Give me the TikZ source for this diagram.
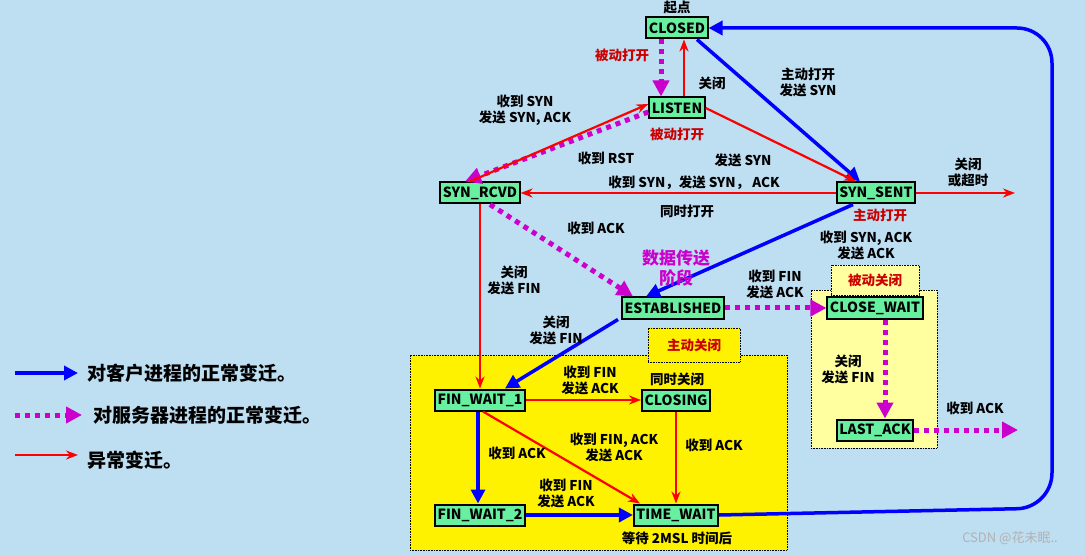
\documentclass[tikz,border=0pt]{standalone}
\usepackage{fontspec}
\setmainfont{Noto Sans CJK SC}
\usetikzlibrary{arrows.meta}
\definecolor{bgblue}{RGB}{190,222,242}
\definecolor{stgreen}{RGB}{102,240,160}
\definecolor{mag}{RGB}{204,0,204}
\definecolor{pyellow}{RGB}{255,255,160}

\begin{document}
\begin{tikzpicture}[x=1pt,y=-1pt,
        every node/.style={font=\bfseries\fontsize{13.5}{16}\selectfont, align=center},
        state/.style={draw, line width=2pt, fill=stgreen, inner sep=2.5pt, minimum height=21pt, font=\bfseries\fontsize{14}{16}\selectfont},
        client/.style={blue, line width=3.5pt, -{Triangle[length=14pt,width=14pt]}},
        server/.style={mag, line width=5pt, dash pattern=on 5pt off 5pt, -{Triangle[length=16pt,width=16pt]}},
        bad/.style={red, line width=2.2pt, -{Stealth[length=12pt,width=9pt]}},
        redtxt/.style={text=red!80!black},
        area/.style={draw, densely dotted, line width=0.6pt}
    ]
    \fill[bgblue] (0,0) rectangle (1085,556);
    \useasboundingbox (0,0) rectangle (1085,556);

    % closing areas
    \node[area, fill=yellow, minimum width=377pt, minimum height=195pt] (activearea) at (598.5,452.5) {};
    \node[area, fill=yellow, minimum width=92pt, minimum height=34pt, redtxt] (activelabel) at (694,345) {主动关闭};
    \node[area, fill=pyellow, minimum width=126pt, minimum height=158pt] (passivearea) at (874,369) {};
    \node[area, fill=pyellow, minimum width=88pt, minimum height=30pt, redtxt] (passivelabel) at (875,280) {被动关闭};

    % states
    \node[state] (closed) at (677,28) {CLOSED};
    \node[state] (listen) at (677,108) {LISTEN};
    \node[state] (synrcvd) at (480,193) {SYN\_RCVD};
    \node[state] (synsent) at (876,193) {SYN\_SENT};
    \node[state] (estab) at (673,308) {ESTABLISHED};
    \node[state] (closewait) at (875,308) {CLOSE\_WAIT};
    \node[state] (lastack) at (875,430) {LAST\_ACK};
    \node[state] (finwait1) at (480,400) {FIN\_WAIT\_1};
    \node[state] (closing) at (676,400) {CLOSING};
    \node[state] (finwait2) at (480,515) {FIN\_WAIT\_2};
    \node[state] (timewait) at (676,515) {TIME\_WAIT};

    \coordinate (timeout) at (1015,193);
    \coordinate (lastend) at (1018,430);

    % transitions
    \draw[server] ([xshift=-16pt]closed.south) -- ([xshift=-16pt]listen.north);
    \draw[bad] ([xshift=7pt]listen.north) -- ([xshift=7pt]closed.south);
    \draw[client] ([xshift=20pt]closed.south) -- ([xshift=-16pt]synsent.north);
    \draw[server] ([yshift=-4pt]listen.west) -- ([xshift=-15pt]synrcvd.north);
    \draw[bad] ([xshift=-10pt]synrcvd.north) -- ([yshift=4pt]listen.west);
    \draw[bad] (listen.east) -- ([xshift=-20pt]synsent.north);
    \draw[bad] (synsent.west) -- (synrcvd.east);
    \draw[bad] (synsent.east) -- (timeout);
    \draw[server] ([xshift=10pt]synrcvd.south) -- ([xshift=-40pt]estab.north);
    \draw[client] ([xshift=-23pt]synsent.south) -- ([xshift=-27pt]estab.north);
    \draw[server] (estab.east) -- (closewait.west);
    \draw[bad] (synrcvd.south) -- (finwait1.north);
    \draw[client] ([xshift=-55pt]estab.south) -- ([xshift=25pt]finwait1.north);
    \draw[server] ([xshift=10pt]closewait.south) -- ([xshift=10pt]lastack.north);
    \draw[server] (lastack.east) -- (lastend);
    \draw[bad] (finwait1.east) -- (closing.west);
    \draw[client] ([xshift=-2pt]finwait1.south) -- ([xshift=-2pt]finwait2.north);
    \draw[bad] ([xshift=3pt]finwait1.south) -- ([xshift=-36pt]timewait.north);
    \draw[bad] (closing.south) -- (timewait.north);
    \draw[client] (finwait2.east) -- (timewait.west);
    \draw[client, rounded corners=35pt] (timewait.east) -- (1052,508) -- (1052,28) -- (closed.east);

    % labels
    \node (startlbl) at (677,7) {起点};
    \node[redtxt] (passopen1) at (622,55) {被动打开};
    \node (closelbl1) at (712,83) {关闭};
    \node (actopen) at (808,82) {主动打开\\发送 SYN};
    \node (rcvsyn) at (525,110) {收到 SYN\\发送 SYN, ACK};
    \node (rcvrst) at (606,158) {收到 RST};
    \node[redtxt] (passopen2) at (677,134) {被动打开};
    \node (sendsyn) at (743,160) {发送 SYN};
    \node (simopen1) at (694,183) {收到 SYN，发送 SYN， ACK};
    \node (simopen2) at (687,211) {同时打开};
    \node (timeoutlbl) at (968,172) {关闭\\或超时};
    \node[redtxt] (actopen2) at (880,215) {主动打开};
    \node (rcvack1) at (596,228) {收到 ACK};
    \node (rcvsynack) at (866,245) {收到 SYN, ACK\\发送 ACK};
    \node[mag, font=\bfseries\fontsize{17}{20}\selectfont] (datatx) at (676,268) {数据传送\\阶段};
    \node (rcvfin1) at (775,284) {收到 FIN\\发送 ACK};
    \node (close2) at (514,280) {关闭\\发送 FIN};
    \node (close3) at (556,330) {关闭\\发送 FIN};
    \node (close4) at (848,369) {关闭\\发送 FIN};
    \node (rcvack2) at (975,408) {收到 ACK};
    \node (rcvfin2) at (590,380) {收到 FIN\\发送 ACK};
    \node (simclose) at (677,379) {同时关闭};
    \node (rcvack3) at (517,453) {收到 ACK};
    \node (rcvfinack) at (614,447) {收到 FIN, ACK\\发送 ACK};
    \node (rcvack4) at (714,445) {收到 ACK};
    \node (rcvfin3) at (566,493) {收到 FIN\\发送 ACK};
    \node (wait2msl) at (677,538) {等待 2MSL 时间后};
    \node[gray!60, font=\fontsize{13}{15}\selectfont] (mark) at (1010,538) {CSDN @花未眠..};

    % legend
    \coordinate (lg1a) at (15,373); \coordinate (lg1b) at (78,373);
    \coordinate (lg2a) at (15,415); \coordinate (lg2b) at (82,415);
    \coordinate (lg3a) at (15,455); \coordinate (lg3b) at (78,455);
    \draw[client] (lg1a) -- (lg1b);
    \draw[server] (lg2a) -- (lg2b);
    \draw[bad] (lg3a) -- (lg3b);
    \node[anchor=west, font=\bfseries\fontsize{19}{22}\selectfont] (lgtxt1) at (84,373) {对客户进程的正常变迁。};
    \node[anchor=west, font=\bfseries\fontsize{19}{22}\selectfont] (lgtxt2) at (90,415) {对服务器进程的正常变迁。};
    \node[anchor=west, font=\bfseries\fontsize{19}{22}\selectfont] (lgtxt3) at (84,460) {异常变迁。};
\end{tikzpicture}
\end{document}
